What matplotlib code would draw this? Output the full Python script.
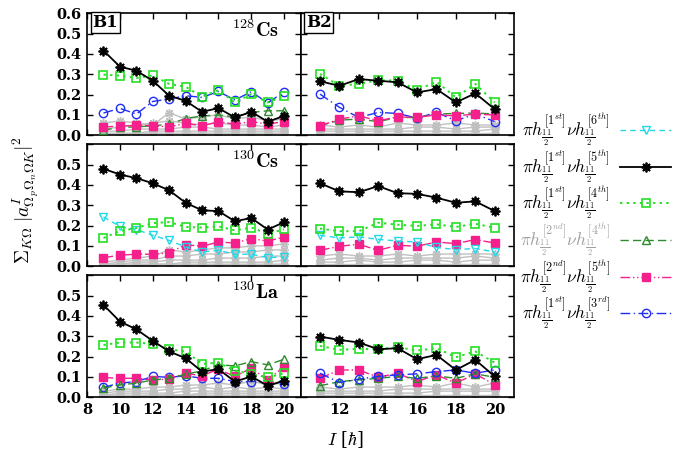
import matplotlib
matplotlib.use("Agg")
import matplotlib.pyplot as plt
from matplotlib.lines import Line2D

plt.rcParams['mathtext.fontset'] = 'cm'
plt.rcParams['font.family'] = 'DejaVu Serif'

I_left = [9, 10, 11, 12, 13, 14, 15, 16, 17, 18, 19, 20]
I_right = [11, 12, 13, 14, 15, 16, 17, 18, 19, 20]

# ---- B1, 128Cs (top-left)
b1_128_black = [0.416, 0.337, 0.317, 0.268, 0.194, 0.169, 0.115, 0.133, 0.087, 0.115, 0.066, 0.095]
b1_128_green = [0.298, 0.293, 0.281, 0.294, 0.252, 0.238, 0.189, 0.222, 0.161, 0.202, 0.161, 0.191]
b1_128_blue = [0.109, 0.132, 0.104, 0.166, 0.178, 0.194, 0.186, 0.215, 0.173, 0.214, 0.158, 0.214]
b1_128_dgreen = [0.025, 0.038, 0.041, 0.046, 0.054, 0.082, 0.095, 0.099, 0.090, 0.112, 0.120, 0.120]
b1_128_pink = [0.041, 0.044, 0.049, 0.046, 0.041, 0.058, 0.046, 0.066, 0.054, 0.067, 0.054, 0.067]
b1_128_gray = [
    [0.06, 0.07, 0.06, 0.05, 0.11, 0.08, 0.09, 0.10, 0.08, 0.09, 0.07, 0.08],
    [0.03, 0.04, 0.05, 0.06, 0.07, 0.06, 0.05, 0.06, 0.05, 0.05, 0.04, 0.05],
    [0.02, 0.02, 0.03, 0.03, 0.03, 0.04, 0.04, 0.03, 0.03, 0.03, 0.03, 0.03],
    [0.01, 0.01, 0.01, 0.02, 0.02, 0.02, 0.02, 0.02, 0.02, 0.02, 0.02, 0.02],
    [0.00, 0.00, 0.01, 0.01, 0.01, 0.01, 0.01, 0.01, 0.01, 0.01, 0.01, 0.01],
]

# ---- B2, 128Cs (top-right)
b2_128_black = [0.265, 0.243, 0.276, 0.268, 0.260, 0.210, 0.227, 0.161, 0.206, 0.128]
b2_128_green = [0.301, 0.243, 0.252, 0.271, 0.268, 0.222, 0.263, 0.186, 0.252, 0.161]
b2_128_blue = [0.202, 0.137, 0.087, 0.112, 0.107, 0.084, 0.112, 0.071, 0.104, 0.067]
b2_128_dgreen = [0.046, 0.074, 0.079, 0.067, 0.087, 0.087, 0.104, 0.107, 0.109, 0.104]
b2_128_pink = [0.046, 0.079, 0.095, 0.071, 0.090, 0.087, 0.100, 0.095, 0.104, 0.099]
b2_128_gray = [
    [0.05, 0.04, 0.05, 0.04, 0.06, 0.05, 0.05, 0.06, 0.05, 0.05],
    [0.03, 0.03, 0.03, 0.03, 0.03, 0.04, 0.04, 0.03, 0.04, 0.04],
    [0.02, 0.02, 0.02, 0.02, 0.02, 0.02, 0.02, 0.02, 0.02, 0.03],
    [0.01, 0.01, 0.01, 0.01, 0.01, 0.01, 0.01, 0.01, 0.01, 0.01],
]

# ---- B1, 130Cs (middle-left)
b1_130cs_black = [0.479, 0.451, 0.433, 0.408, 0.373, 0.312, 0.275, 0.271, 0.221, 0.237, 0.180, 0.217]
b1_130cs_green = [0.139, 0.173, 0.188, 0.212, 0.217, 0.193, 0.190, 0.196, 0.176, 0.190, 0.160, 0.181]
b1_130cs_cyan = [0.242, 0.196, 0.180, 0.152, 0.127, 0.095, 0.070, 0.078, 0.059, 0.059, 0.042, 0.046]
b1_130cs_pink = [0.042, 0.054, 0.059, 0.059, 0.065, 0.106, 0.098, 0.119, 0.114, 0.136, 0.123, 0.144]
b1_130cs_gray = [
    [0.02, 0.03, 0.04, 0.05, 0.08, 0.07, 0.08, 0.09, 0.09, 0.10, 0.10, 0.11],
    [0.01, 0.02, 0.03, 0.03, 0.05, 0.05, 0.06, 0.06, 0.07, 0.07, 0.08, 0.08],
    [0.01, 0.01, 0.02, 0.02, 0.03, 0.03, 0.03, 0.04, 0.04, 0.04, 0.05, 0.05],
    [0.00, 0.01, 0.01, 0.01, 0.01, 0.02, 0.02, 0.02, 0.02, 0.02, 0.02, 0.03],
    [0.00, 0.00, 0.00, 0.01, 0.01, 0.01, 0.01, 0.01, 0.01, 0.01, 0.01, 0.01],
]

# ---- B2, 130Cs (middle-right)
b2_130cs_black = [0.408, 0.368, 0.364, 0.394, 0.359, 0.356, 0.337, 0.312, 0.319, 0.271]
b2_130cs_green = [0.185, 0.172, 0.172, 0.214, 0.204, 0.198, 0.206, 0.193, 0.209, 0.188]
b2_130cs_cyan = [0.152, 0.139, 0.144, 0.132, 0.124, 0.119, 0.092, 0.082, 0.087, 0.070]
b2_130cs_pink = [0.078, 0.098, 0.108, 0.078, 0.103, 0.098, 0.119, 0.111, 0.131, 0.114]
b2_130cs_gray = [
    [0.05, 0.06, 0.05, 0.05, 0.06, 0.05, 0.06, 0.06, 0.06, 0.06],
    [0.03, 0.04, 0.04, 0.03, 0.04, 0.04, 0.04, 0.04, 0.05, 0.04],
    [0.02, 0.02, 0.03, 0.02, 0.02, 0.03, 0.03, 0.02, 0.03, 0.03],
    [0.01, 0.01, 0.01, 0.01, 0.01, 0.01, 0.01, 0.01, 0.01, 0.01],
]

# ---- B1, 130La (bottom-left)
b1_130la_black = [0.454, 0.372, 0.334, 0.277, 0.225, 0.192, 0.126, 0.138, 0.077, 0.102, 0.056, 0.082]
b1_130la_green = [0.257, 0.269, 0.269, 0.262, 0.236, 0.225, 0.164, 0.170, 0.130, 0.115, 0.097, 0.118]
b1_130la_dgreen = [0.044, 0.061, 0.069, 0.085, 0.093, 0.113, 0.130, 0.159, 0.154, 0.175, 0.159, 0.187]
b1_130la_pink = [0.097, 0.093, 0.093, 0.085, 0.089, 0.118, 0.105, 0.138, 0.102, 0.143, 0.085, 0.151]
b1_130la_blue = [0.049, 0.069, 0.077, 0.102, 0.098, 0.105, 0.093, 0.093, 0.077, 0.077, 0.077, 0.066]
b1_130la_gray = [
    [0.03, 0.04, 0.04, 0.05, 0.05, 0.06, 0.06, 0.07, 0.06, 0.08, 0.06, 0.07],
    [0.02, 0.03, 0.03, 0.03, 0.04, 0.04, 0.05, 0.04, 0.05, 0.04, 0.05, 0.04],
    [0.01, 0.02, 0.02, 0.02, 0.02, 0.03, 0.03, 0.03, 0.03, 0.03, 0.03, 0.03],
    [0.01, 0.01, 0.01, 0.01, 0.01, 0.01, 0.02, 0.02, 0.02, 0.02, 0.02, 0.02],
    [0.00, 0.00, 0.00, 0.01, 0.01, 0.01, 0.01, 0.01, 0.01, 0.01, 0.01, 0.01],
]

# ---- B2, 130La (bottom-right)
b2_130la_black = [0.298, 0.282, 0.269, 0.236, 0.241, 0.187, 0.208, 0.134, 0.184, 0.102]
b2_130la_green = [0.252, 0.233, 0.238, 0.236, 0.246, 0.230, 0.241, 0.197, 0.225, 0.170]
b2_130la_blue = [0.118, 0.072, 0.089, 0.102, 0.110, 0.115, 0.126, 0.134, 0.118, 0.134]
b2_130la_pink = [0.093, 0.134, 0.134, 0.098, 0.118, 0.077, 0.110, 0.069, 0.115, 0.061]
b2_130la_dgreen = [0.056, 0.077, 0.085, 0.093, 0.102, 0.093, 0.105, 0.093, 0.115, 0.098]
b2_130la_gray = [
    [0.05, 0.04, 0.05, 0.05, 0.05, 0.06, 0.05, 0.07, 0.05, 0.07],
    [0.03, 0.03, 0.03, 0.03, 0.04, 0.04, 0.04, 0.04, 0.04, 0.04],
    [0.02, 0.02, 0.02, 0.02, 0.02, 0.02, 0.03, 0.03, 0.03, 0.03],
    [0.01, 0.01, 0.01, 0.01, 0.01, 0.01, 0.01, 0.01, 0.01, 0.01],
]

nuclei = [r'$^{\mathbf{128}}\mathbf{Cs}$', r'$^{\mathbf{130}}\mathbf{Cs}$', r'$^{\mathbf{130}}\mathbf{La}$']

frac = r'{\frac{\mathbf{11}}{\mathbf{2}}}'
labels = {
    'cyan': r'$\pi h^{[1^{st}]}_' + frac + r'\nu h^{[6^{th}]}_' + frac + '$',
    'black': r'$\pi h^{[1^{st}]}_' + frac + r'\nu h^{[5^{th}]}_' + frac + '$',
    'green': r'$\pi h^{[1^{st}]}_' + frac + r'\nu h^{[4^{th}]}_' + frac + '$',
    'dgreen': r'$\pi h^{[2^{nd}]}_' + frac + r'\nu h^{[4^{th}]}_' + frac + '$',
    'pink': r'$\pi h^{[2^{nd}]}_' + frac + r'\nu h^{[5^{th}]}_' + frac + '$',
    'blue': r'$\pi h^{[1^{st}]}_' + frac + r'\nu h^{[3^{rd}]}_' + frac + '$',
}

star = (8, 2, 0)
styles = {
    'cyan': dict(color='#22d8e8', ls=(0, (4, 3)), marker='v', mfc='none', ms=6, lw=1.0, mew=1.0),
    'black': dict(color='black', ls='-', marker=star, ms=7, lw=1.3, mew=1.3),
    'green': dict(color='#22e022', ls=(0, (1.2, 2.2)), marker='s', mfc='none', ms=6, lw=1.4, mew=1.2),
    'dgreen': dict(color='#2e8b2e', ls=(0, (6, 3)), marker='^', mfc='none', ms=6, lw=1.0, mew=1.0),
    'pink': dict(color='#f5208c', ls=(0, (7, 2, 1, 2, 1, 2)), marker='s', ms=5.5, lw=1.0, mew=1.0),
    'blue': dict(color='#1f2ef5', ls=(0, (7, 2.5, 1, 2.5)), marker='o', mfc='none', ms=6, lw=1.0, mew=1.0),
}
gray_style = dict(color='#c0c0c0', ls='-', marker=star, ms=6.5, lw=1.0, mew=1.0)

panels = [
    [(I_left, b1_128_gray, [('dgreen', b1_128_dgreen), ('pink', b1_128_pink), ('blue', b1_128_blue),
                            ('green', b1_128_green), ('black', b1_128_black)]),
     (I_right, b2_128_gray, [('blue', b2_128_blue), ('dgreen', b2_128_dgreen), ('pink', b2_128_pink),
                             ('green', b2_128_green), ('black', b2_128_black)])],
    [(I_left, b1_130cs_gray, [('pink', b1_130cs_pink), ('cyan', b1_130cs_cyan),
                              ('green', b1_130cs_green), ('black', b1_130cs_black)]),
     (I_right, b2_130cs_gray, [('pink', b2_130cs_pink), ('cyan', b2_130cs_cyan),
                               ('green', b2_130cs_green), ('black', b2_130cs_black)])],
    [(I_left, b1_130la_gray, [('blue', b1_130la_blue), ('pink', b1_130la_pink), ('dgreen', b1_130la_dgreen),
                              ('green', b1_130la_green), ('black', b1_130la_black)]),
     (I_right, b2_130la_gray, [('pink', b2_130la_pink), ('dgreen', b2_130la_dgreen), ('blue', b2_130la_blue),
                               ('green', b2_130la_green), ('black', b2_130la_black)])],
]

fig = plt.figure(figsize=(6.91, 4.55), dpi=100)
gs = fig.add_gridspec(3, 2, left=0.126, right=0.744, top=0.971, bottom=0.127,
                      hspace=0.074, wspace=0.0)

tickfont = dict(family='DejaVu Serif', weight='bold', size=10.5)

for r in range(3):
    for c in range(2):
        ax = fig.add_subplot(gs[r, c])
        xs, grays, series = panels[r][c]
        for g in grays:
            ax.plot(xs, g, **gray_style, zorder=2)
        for key, vals in series:
            ax.plot(xs, vals, **styles[key], zorder=3)
        ax.set_ylim(0, 0.6)
        if c == 0:
            ax.set_xlim(8, 21)
            ax.set_xticks([8, 10, 12, 14, 16, 18, 20])
        else:
            ax.set_xlim(10, 21)
            ax.set_xticks([12, 14, 16, 18, 20])
        ax.set_yticks([0.0, 0.1, 0.2, 0.3, 0.4, 0.5, 0.6])
        ax.tick_params(direction='in', top=True, right=True, length=4, width=1.0, pad=4)
        for sp in ax.spines.values():
            sp.set_linewidth(1.2)
        if c == 0:
            if r == 0:
                ax.set_yticklabels(['0.0', '0.1', '0.2', '0.3', '0.4', '0.5', '0.6'], **tickfont)
            else:
                ax.set_yticklabels(['0.0', '0.1', '0.2', '0.3', '0.4', '0.5', ''], **tickfont)
            ax.text(0.9, 0.86, nuclei[r], transform=ax.transAxes, ha='right', va='center',
                    fontsize=14.5)
        else:
            ax.set_yticklabels([])
        if r == 2:
            ax.set_xticklabels([str(t) for t in ax.get_xticks()], **tickfont)
        else:
            ax.set_xticklabels([])
        if r == 0:
            ax.text(0.025, 0.925, 'B1' if c == 0 else 'B2', transform=ax.transAxes,
                    ha='left', va='center', fontsize=12, fontweight='bold',
                    bbox=dict(boxstyle='square,pad=0.1', fc='white', ec='black', lw=1.0))

fig.text(0.037, 0.56, r'$\Sigma_{K\Omega}\;|a^{I}_{\Omega_p\Omega_n\Omega K}|^2$', rotation=90,
         ha='center', va='center', fontsize=14)
fig.text(0.5, 0.035, r'$I$ [$\hbar$]', ha='center', va='center', fontsize=13)

order = ['cyan', 'black', 'green', 'dgreen', 'pink', 'blue']
handles = [Line2D([], [], **styles[k]) for k in order]
leg = fig.legend(handles, [labels[k] for k in order], loc='upper left',
                 bbox_to_anchor=(0.752, 0.755), frameon=False, markerfirst=False,
                 borderpad=0, borderaxespad=0,
                 fontsize=12.5, handlelength=2.9, labelspacing=0.02, handletextpad=0.6)
leg.get_texts()[3].set_color('#a0a0a0')

fig.savefig('out.png', dpi=100)
